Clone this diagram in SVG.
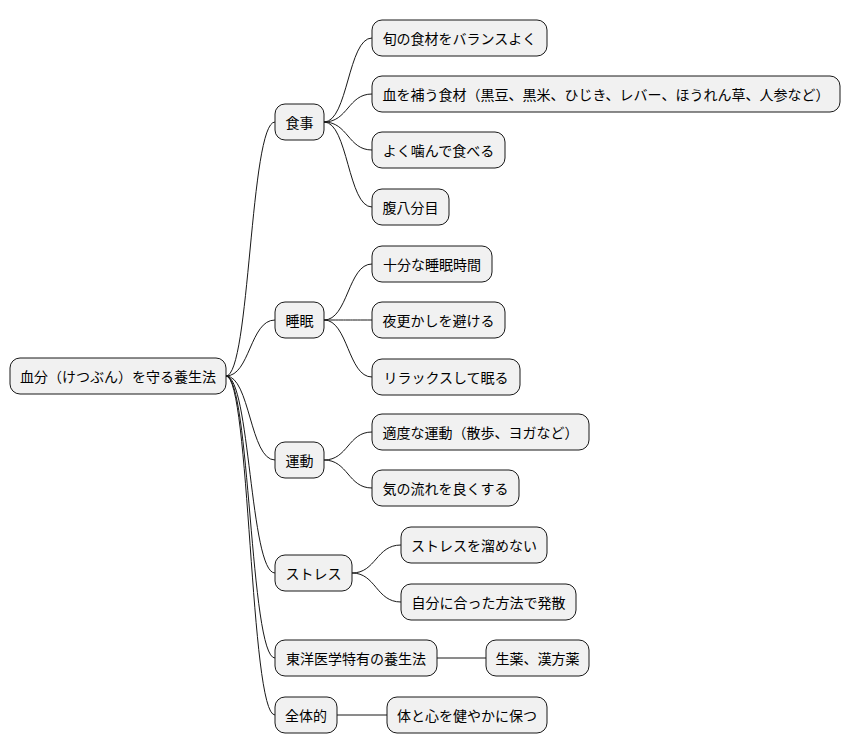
<svg xmlns="http://www.w3.org/2000/svg" width="852" height="752" viewBox="0 0 852 752">
<style>
rect{fill:#f1f1f1;stroke:#181818;stroke-width:1}
text{font-family:"Noto Sans CJK JP","Liberation Sans",sans-serif;font-size:14px;fill:#000;text-anchor:middle;dominant-baseline:central}
#edges path{fill:none;stroke:#181818;stroke-width:1}
</style>
<rect x="0" y="0" width="852" height="752" style="fill:#fff;stroke:none"/>
<g id="edges">
<path d="M226 376 C250 376 250 122 275 122"/>
<path d="M226 376 C250 376 250 320 275 320"/>
<path d="M226 376 C250 376 250 460 275 460"/>
<path d="M226 376 C250 376 250 573 275 573"/>
<path d="M226 376 C250 376 250 658 275 658"/>
<path d="M226 376 C250 376 250 715 275 715"/>
<path d="M324 122 C348 122 348 38 372 38"/>
<path d="M324 122 C348 122 348 94 372 94"/>
<path d="M324 122 C348 122 348 150 372 150"/>
<path d="M324 122 C348 122 348 207 372 207"/>
<path d="M324 320 C348 320 348 264 372 264"/>
<path d="M324 320 C348 320 348 320 372 320"/>
<path d="M324 320 C348 320 348 377 372 377"/>
<path d="M324 460 C348 460 348 432 372 432"/>
<path d="M324 460 C348 460 348 488 372 488"/>
<path d="M352 573 C376 573 376 545 401 545"/>
<path d="M352 573 C376 573 376 602 401 602"/>
<path d="M437 658 L486 658"/>
<path d="M337 715 L387 715"/>
</g>
<g id="root"><rect x="10" y="358" width="216" height="36" rx="10"/><text x="118" y="376">血分（けつぶん）を守る養生法</text></g>
<g id="n1"><rect x="275" y="104" width="49" height="36" rx="10"/><text x="299.5" y="122">食事</text></g>
<g id="n2"><rect x="275" y="302" width="49" height="36" rx="10"/><text x="299.5" y="320">睡眠</text></g>
<g id="n3"><rect x="275" y="442" width="49" height="36" rx="10"/><text x="299.5" y="460">運動</text></g>
<g id="n4"><rect x="275" y="555" width="77" height="36" rx="10"/><text x="313.5" y="573">ストレス</text></g>
<g id="n5"><rect x="275" y="640" width="162" height="36" rx="10"/><text x="356" y="658">東洋医学特有の養生法</text></g>
<g id="n6"><rect x="275" y="697" width="62" height="36" rx="10"/><text x="306" y="715">全体的</text></g>
<g id="n11"><rect x="372" y="20" width="175" height="36" rx="10"/><text x="459.5" y="38">旬の食材をバランスよく</text></g>
<g id="n12"><rect x="372" y="76" width="468" height="36" rx="10"/><text x="606" y="94">血を補う食材（黒豆、黒米、ひじき、レバー、ほうれん草、人参など）</text></g>
<g id="n13"><rect x="372" y="132" width="133" height="36" rx="10"/><text x="438.5" y="150">よく噛んで食べる</text></g>
<g id="n14"><rect x="372" y="189" width="77" height="36" rx="10"/><text x="410.5" y="207">腹八分目</text></g>
<g id="n21"><rect x="372" y="246" width="120" height="36" rx="10"/><text x="432" y="264">十分な睡眠時間</text></g>
<g id="n22"><rect x="372" y="302" width="133" height="36" rx="10"/><text x="438.5" y="320">夜更かしを避ける</text></g>
<g id="n23"><rect x="372" y="359" width="148" height="36" rx="10"/><text x="446" y="377">リラックスして眠る</text></g>
<g id="n31"><rect x="372" y="414" width="217" height="36" rx="10"/><text x="480.5" y="432">適度な運動（散歩、ヨガなど）</text></g>
<g id="n32"><rect x="372" y="470" width="147" height="36" rx="10"/><text x="445.5" y="488">気の流れを良くする</text></g>
<g id="n41"><rect x="401" y="527" width="146" height="36" rx="10"/><text x="474" y="545">ストレスを溜めない</text></g>
<g id="n42"><rect x="401" y="584" width="175" height="36" rx="10"/><text x="488.5" y="602">自分に合った方法で発散</text></g>
<g id="n51"><rect x="486" y="640" width="103" height="36" rx="10"/><text x="537.5" y="658">生薬、漢方薬</text></g>
<g id="n61"><rect x="387" y="697" width="160" height="36" rx="10"/><text x="467" y="715">体と心を健やかに保つ</text></g>
</svg>
